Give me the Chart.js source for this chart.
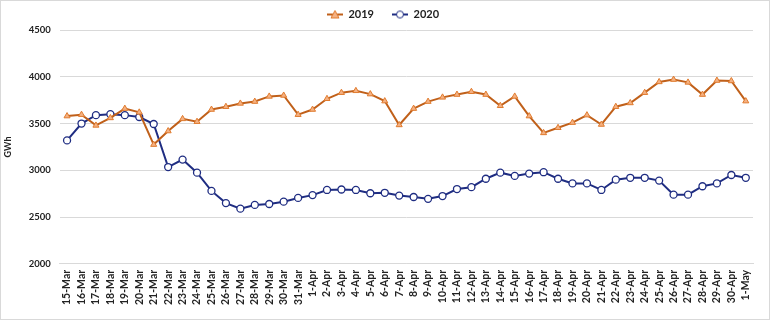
<!DOCTYPE html>
<html>
<head>
<meta charset="utf-8">
<script src="https://cdn.jsdelivr.net/npm/chart.js@4.4.0/dist/chart.umd.min.js"></script>
<style>
  body { margin: 0; background: #fff; }
  #wrap { width: 768px; height: 318px; border: 1px solid #d9d9d9; }
</style>
</head>
<body>
<div id="wrap"><canvas id="grafico" width="768" height="318"></canvas></div>
<script>
const labels = ['15-Mar','16-Mar','17-Mar','18-Mar','19-Mar','20-Mar','21-Mar','22-Mar','23-Mar','24-Mar',
    '25-Mar','26-Mar','27-Mar','28-Mar','29-Mar','30-Mar','31-Mar','1-Apr','2-Apr','3-Apr','4-Apr',
    '5-Apr','6-Apr','7-Apr','8-Apr','9-Apr','10-Apr','11-Apr','12-Apr','13-Apr','14-Apr','15-Apr',
    '16-Apr','17-Apr','18-Apr','19-Apr','20-Apr','21-Apr','22-Apr','23-Apr','24-Apr','25-Apr',
    '26-Apr','27-Apr','28-Apr','29-Apr','30-Apr','1-May'];

// GWh por dia
const dados2019 = [3580, 3595, 3480, 3560, 3660, 3620, 3275, 3420, 3550, 3520,
    3650, 3680, 3715, 3735, 3790, 3800, 3595, 3650, 3765, 3830, 3850,
    3815, 3740, 3485, 3660, 3735, 3780, 3810, 3840, 3810, 3690, 3790,
    3580, 3400, 3455, 3510, 3590, 3490, 3680, 3720, 3830, 3945,
    3970, 3940, 3810, 3960, 3955, 3740];
const dados2020 = [3320, 3500, 3590, 3600, 3590, 3570, 3495, 3035, 3115, 2975,
    2780, 2650, 2590, 2630, 2640, 2665, 2705, 2735, 2790, 2795, 2790,
    2755, 2760, 2730, 2715, 2695, 2725, 2800, 2820, 2910, 2975, 2940,
    2965, 2980, 2910, 2860, 2860, 2790, 2900, 2920, 2920, 2890,
    2740, 2740, 2830, 2860, 2950, 2920];

const yMin = 2000;
const yMax = 4500;
const yStep = 500;

const cor2019 = '#C0601A';
const corMarca2019 = '#F4B183';
const borda2019 = '#E07B2E';
const cor2020 = '#1F2D82';

// marcador da legenda: espaco + linha + simbolo
function legendIcon(line, fill, stroke, tipo) {
    const c = document.createElement('canvas');
    c.width = 28; c.height = 10;
    const g = c.getContext('2d');
    g.strokeStyle = line; g.lineWidth = 2;
    g.beginPath(); g.moveTo(12, 5); g.lineTo(28, 5); g.stroke();
    g.fillStyle = fill; g.strokeStyle = stroke; g.lineWidth = 1;
    g.beginPath();
    if (tipo === 'triangle') {
        g.moveTo(20, 1); g.lineTo(24, 8.5); g.lineTo(16, 8.5); g.closePath();
    } else {
        g.arc(20, 5, 3.5, 0, Math.PI * 2);
    }
    g.fill(); g.stroke();
    return c;
}
const icones = [
    legendIcon(cor2019, corMarca2019, borda2019, 'triangle'),
    legendIcon(cor2020, '#ffffff', cor2020, 'circle')
];

const ctx = document.getElementById('grafico').getContext('2d');
const grafico = new Chart(ctx, {
    type: 'line',
    data: {
        labels: labels,
        datasets: [
            {
                label: '2019',
                data: dados2019,
                borderColor: cor2019,
                borderWidth: 2,
                pointStyle: 'triangle',
                pointRadius: 3.5,
                pointBackgroundColor: corMarca2019,
                pointBorderColor: borda2019,
                pointBorderWidth: 1,
                tension: 0
            },
            {
                label: '2020',
                data: dados2020,
                borderColor: cor2020,
                borderWidth: 2,
                pointStyle: 'circle',
                pointRadius: 3.5,
                pointBackgroundColor: '#ffffff',
                pointBorderColor: cor2020,
                pointBorderWidth: 1.3,
                tension: 0
            }
        ]
    },
    options: {
        responsive: false,
        animation: false,
        layout: { padding: { top: 2, right: 16, left: 0, bottom: 12 } },
        plugins: {
            legend: {
                position: 'top',
                labels: {
                    usePointStyle: true,
                    pointStyleWidth: 28,
                    boxHeight: 10,
                    padding: 6,
                    color: '#222',
                    font: { family: 'Lato', size: 11, weight: 'bold' },
                    generateLabels: function (chart) {
                        return chart.data.datasets.map(function (ds, i) {
                            return {
                                text: ds.label,
                                pointStyle: icones[i],
                                datasetIndex: i,
                                hidden: false,
                                fontColor: '#222'
                            };
                        });
                    }
                }
            },
            tooltip: { enabled: false }
        },
        scales: {
            x: {
                offset: true,
                grid: { display: false, drawTicks: true, tickLength: 4 },
                border: { color: '#d9d9d9' },
                ticks: {
                    autoSkip: false,
                    maxRotation: 90,
                    minRotation: 90,
                    color: '#222',
                    padding: 2,
                    font: { family: 'Lato', size: 10.5, weight: 'bold' }
                }
            },
            y: {
                min: yMin,
                max: yMax,
                ticks: {
                    stepSize: yStep,
                    color: '#222',
                    padding: 9,
                    font: { family: 'Lato', size: 9.5, weight: 'bold' },
                    callback: function (v) { return v; }
                },
                grid: { color: '#d9d9d9', drawTicks: false },
                border: { display: false },
                title: {
                    display: true,
                    text: 'GWh',
                    color: '#222',
                    padding: { top: 2, bottom: 6 },
                    font: { family: 'Lato', size: 9, weight: 'bold' }
                }
            }
        }
    }
});
</script>
</body>
</html>
